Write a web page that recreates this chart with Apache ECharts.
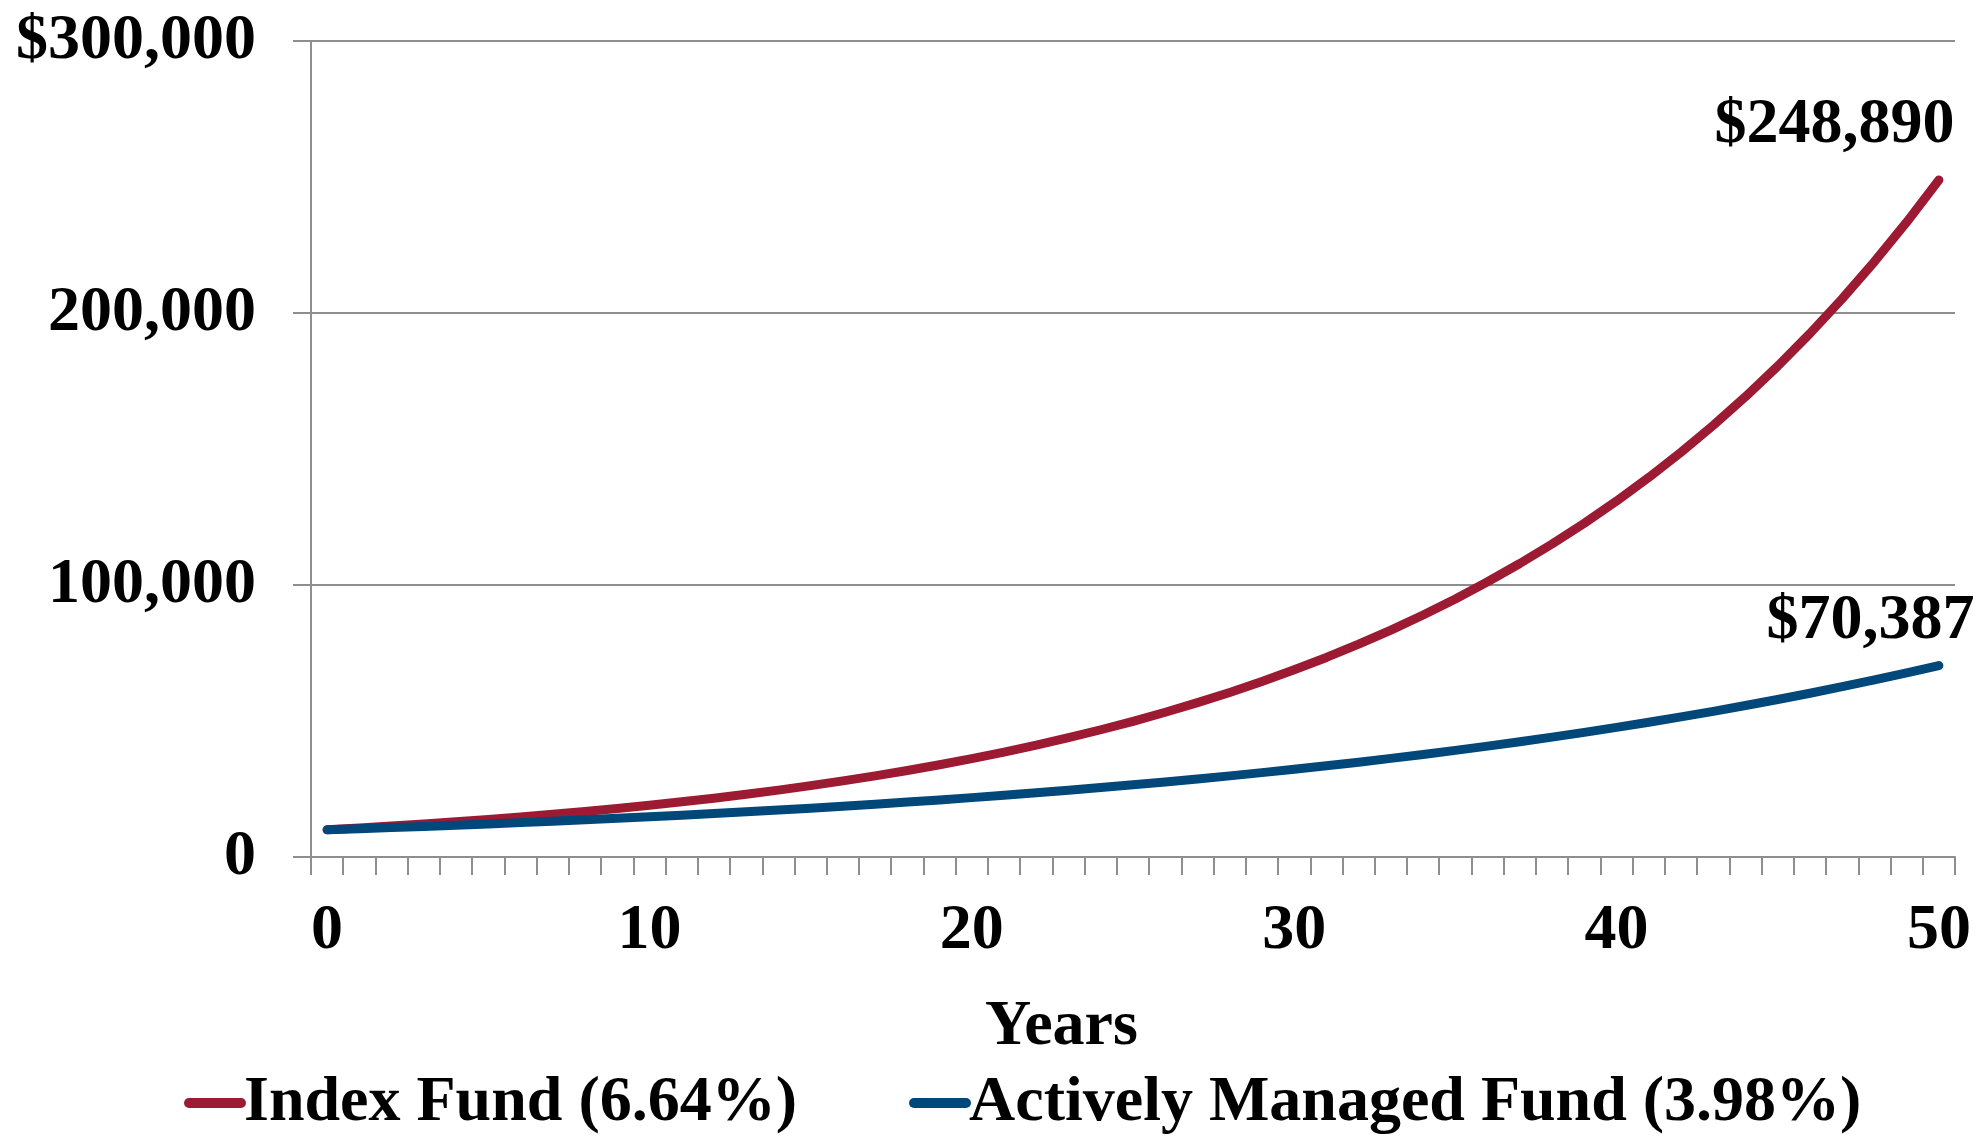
<!DOCTYPE html>
<html>
<head>
<meta charset="utf-8">
<title>Index Fund vs Actively Managed Fund</title>
<script src="https://cdn.jsdelivr.net/npm/echarts@6/dist/echarts.min.js"></script>
<style>
  html, body { margin: 0; padding: 0; background: #ffffff; }
  #chart { width: 1986px; height: 1136px; }
</style>
</head>
<body>
<div id="chart"></div>
<script>
// Growth of a $10,000 investment over 50 years
const years = ['0','1','2','3','4','5','6','7','8','9','10','11','12','13','14','15','16','17','18','19','20',
  '21','22','23','24','25','26','27','28','29','30','31','32','33','34','35','36','37','38','39','40',
  '41','42','43','44','45','46','47','48','49','50'];

const indexFund = [10000, 10664, 11372, 12127, 12932, 13791, 14707, 15683, 16725, 17835, 19020,
  20283, 21629, 23065, 24597, 26230, 27972, 29829, 31810, 33922, 36175,
  38577, 41138, 43870, 46783, 49889, 53202, 56734, 60501, 64519, 68803,
  73371, 78243, 83438, 88978, 94887, 101187, 107906, 115071, 122712, 130860,
  139549, 148815, 158696, 169234, 180471, 192454, 205233, 218860, 233393, 248890];

const activeFund = [10000, 10398, 10812, 11242, 11690, 12155, 12639, 13142, 13665, 14209, 14774,
  15362, 15973, 16609, 17270, 17958, 18672, 19415, 20188, 20992, 21827,
  22696, 23599, 24538, 25515, 26531, 27586, 28684, 29826, 31013, 32247,
  33531, 34865, 36253, 37696, 39196, 40756, 42378, 44065, 45819, 47642,
  49539, 51510, 53560, 55692, 57909, 60213, 62610, 65102, 67693, 70387];

const seriesNames = ['Index Fund (6.64%)', 'Actively Managed Fund (3.98%)'];
const yTickLabels = { 0: '0', 100000: '100,000', 200000: '200,000', 300000: '$300,000' };
const endLabels = ['$248,890', '$70,387'];

const RED = '#9C1B33';
const BLUE = '#00477A';
const GRID = '#8E8E8E';
const FONT = '"Liberation Serif", "Times New Roman", serif';

const chart = echarts.init(document.getElementById('chart'), null, { renderer: 'canvas' });

// Only the final point carries a text label
function withEndLabel(values, text, offset) {
  return values.map((v, i) => {
    if (i !== values.length - 1) return v;
    return {
      value: v,
      label: {
        show: true,
        formatter: text,
        position: offset,
        align: 'right',
        verticalAlign: 'middle',
        color: '#000',
        fontFamily: FONT,
        fontWeight: 'bold',
        fontSize: 64
      }
    };
  });
}

const pillIcon = 'path://M5,0 H57 A5,5 0 0 1 57,10 H5 A5,5 0 0 1 5,0 Z';

chart.setOption({
  animation: false,
  backgroundColor: '#ffffff',
  textStyle: { fontFamily: FONT },
  grid: { left: 311, right: 31, top: 41, bottom: 279, containLabel: false },
  legend: {
    data: seriesNames.map(n => ({ name: n, icon: pillIcon })),
    left: 179,
    top: 1066,
    itemWidth: 62,
    itemHeight: 11,
    itemGap: 112,
    textStyle: {
      color: '#000',
      fontFamily: FONT,
      fontWeight: 'bold',
      fontSize: 64,
      padding: [0, 0, 0, -7]
    }
  },
  graphic: [{
    type: 'text',
    left: 985,
    top: 995,
    style: {
      text: 'Years',
      fill: '#000',
      font: 'bold 64px ' + FONT
    }
  }],
  xAxis: {
    type: 'category',
    data: years,
    boundaryGap: true,
    axisLine: { show: true, lineStyle: { color: GRID, width: 2 } },
    axisTick: { show: true, interval: 0, length: 18, lineStyle: { color: GRID, width: 2 } },
    axisLabel: {
      interval: 9,
      margin: 42,
      color: '#000',
      fontFamily: FONT,
      fontWeight: 'bold',
      fontSize: 64
    },
    splitLine: { show: false }
  },
  yAxis: {
    type: 'value',
    min: 0,
    max: 300000,
    interval: 100000,
    axisLine: { show: true, lineStyle: { color: GRID, width: 2 } },
    axisTick: { show: true, length: 18, lineStyle: { color: GRID, width: 2 } },
    axisLabel: {
      margin: 55,
      color: '#000',
      fontFamily: FONT,
      fontWeight: 'bold',
      fontSize: 64,
      formatter: v => yTickLabels[v] !== undefined ? yTickLabels[v] : String(v)
    },
    splitLine: { show: true, lineStyle: { color: GRID, width: 2 } }
  },
  series: [
    {
      name: seriesNames[0],
      type: 'line',
      data: withEndLabel(indexFund, endLabels[0], [16, -54]),
      showSymbol: true,
      showAllSymbol: true,
      symbol: 'circle',
      symbolSize: 1,
      color: RED,
      itemStyle: { color: RED },
      lineStyle: { color: RED, width: 9, cap: 'round', join: 'round' },
      smooth: false,
      z: 2
    },
    {
      name: seriesNames[1],
      type: 'line',
      data: withEndLabel(activeFund, endLabels[1], [36, -44]),
      showSymbol: true,
      showAllSymbol: true,
      symbol: 'circle',
      symbolSize: 1,
      color: BLUE,
      itemStyle: { color: BLUE },
      lineStyle: { color: BLUE, width: 9, cap: 'round', join: 'round' },
      smooth: false,
      z: 3
    }
  ]
});
</script>
</body>
</html>
